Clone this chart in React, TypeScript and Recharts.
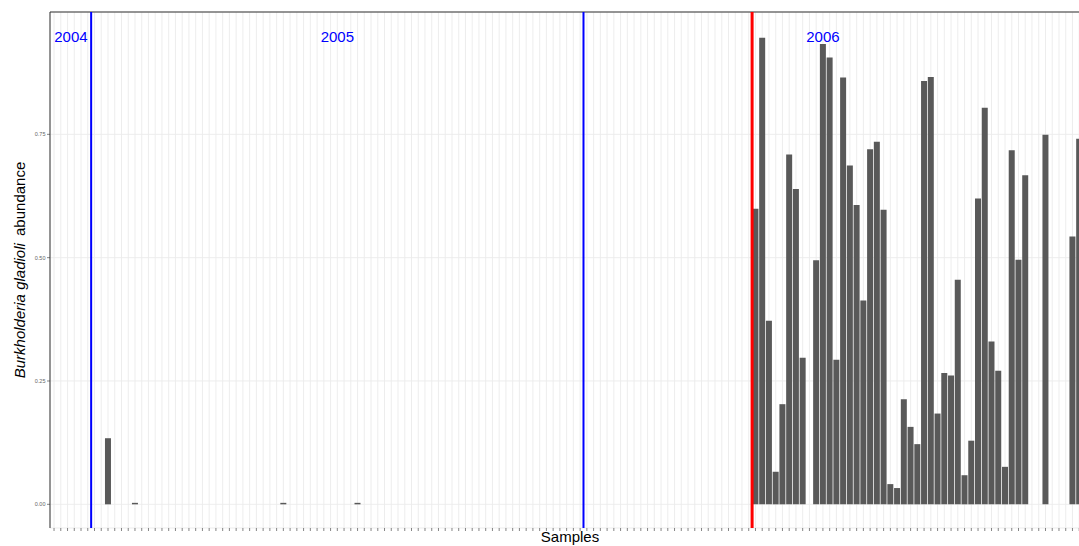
import React from 'react';
import { BarChart, Bar, XAxis, YAxis, CartesianGrid, ReferenceLine } from 'recharts';

// Burkholderia gladioli relative abundance per sample
const abundance: (number | null)[] = [
  0, 0, 0, 0, 0, 0, 0, 0, 0.134, 0, // 1-10
  0, 0, 0.003, 0, 0, 0, 0, 0, 0, 0, // 11-20
  0, 0, 0, 0, 0, 0, 0, 0, 0, 0, // 21-30
  0, 0, 0, 0, 0.003, 0, 0, 0, 0, 0, // 31-40
  0, 0, 0, 0, 0, 0.003, 0, 0, 0, 0, // 41-50
  0, 0, 0, 0, 0, 0, 0, 0, 0, 0, // 51-60
  0, 0, 0, 0, 0, 0, 0, 0, 0, 0, // 61-70
  0, 0, 0, 0, 0, 0, 0, 0, 0, 0, // 71-80
  0, 0, 0, 0, 0, 0, 0, 0, 0, 0, // 81-90
  0, 0, 0, 0, 0, 0, 0, 0, 0, 0, // 91-100
  0, 0, 0, 0, 0.599, 0.946, 0.372, 0.066, 0.203, 0.709, // 101-110
  0.639, 0.297, 0, 0.495, 0.933, 0.906, 0.293, 0.865, 0.687, 0.607, // 111-120
  0.413, 0.72, 0.735, 0.597, 0.041, 0.033, 0.213, 0.157, 0.122, 0.858, // 121-130
  0.866, 0.184, 0.266, 0.261, 0.455, 0.059, 0.129, 0.62, 0.804, 0.33, // 131-140
  0.271, 0.076, 0.718, 0.496, 0.667, 0, 0, 0.749, 0, 0, // 141-150
  0, 0.543, 0.741, null, // 151-154
];

const samples: string[] = abundance.map((_, i) => `S${i + 1}`);

const yTicks = [0, 0.25, 0.5, 0.75];
const yMinorTicks = [0.125, 0.375, 0.625, 0.875];
const yDomain: [number, number] = [-0.048, 0.998];

const yearBoundaries = [
  { sample: 'S7', color: '#0000FF', width: 2 },
  { sample: 'S80', color: '#0000FF', width: 2 },
  { sample: 'S105', color: '#FF0000', width: 3 },
];

const yearLabels: { year: string; sample: string; position: 'start' | 'middle' | 'end' }[] = [
  { year: '2004', sample: 'S3', position: 'end' },
  { year: '2005', sample: 'S43', position: 'middle' },
  { year: '2006', sample: 'S115', position: 'middle' },
];

const data = samples.map((s, i) => ({ sample: s, abundance: abundance[i] }));

const FONT = '"Liberation Sans", Arial, Helvetica, sans-serif';

const YTitle = (props: any) => {
  const vb = props.viewBox || { x: 0, y: 12, width: 50, height: 516 };
  const cx = 24.5;
  const cy = vb.y + vb.height / 2;
  return (
    <text
      x={cx}
      y={cy}
      transform={`rotate(-90, ${cx}, ${cy})`}
      textAnchor="middle"
      fontFamily={FONT}
      fontSize={15}
      fill="#000"
    >
      <tspan fontStyle="italic">Burkholderia gladioli</tspan>
      <tspan dx={3}> abundance</tspan>
    </text>
  );
};

const XTitle = (props: any) => {
  const vb = props.viewBox || { x: 50, y: 528, width: 1040, height: 18 };
  return (
    <text
      x={vb.x + vb.width / 2}
      y={542}
      textAnchor="middle"
      fontFamily={FONT}
      fontSize={15}
      fill="#000"
    >
      Samples
    </text>
  );
};

const makeYearLabel = (year: string) => (props: any) => {
  const vb = props.viewBox || { x: 0 };
  return (
    <text
      x={vb.x}
      y={36}
      textAnchor="middle"
      dominantBaseline="central"
      fontFamily={FONT}
      fontSize={15}
      fill="#0000FF"
    >
      {year}
    </text>
  );
};

const EmptyTick = () => <g />;

const minorGen = (args: any) => {
  const yAxis = args && args.yAxis;
  if (yAxis && typeof yAxis.scale === 'function') {
    return yMinorTicks.map((v) => yAxis.scale(v));
  }
  return [];
};

export default function App() {
  return (
    <div
      style={{
        position: 'absolute',
        left: 0,
        top: 0,
        width: 1079,
        height: 546,
        overflow: 'hidden',
        background: '#fff',
      }}
    >
      <BarChart
        width={1090}
        height={546}
        data={data}
        margin={{ top: 12, right: 0, bottom: 0, left: 0 }}
        barCategoryGap="5%"
      >
        <CartesianGrid stroke="#EBEBEB" strokeWidth={0.9} />
        <CartesianGrid
          stroke="#EBEBEB"
          strokeWidth={0.5}
          vertical={false}
          horizontalCoordinatesGenerator={minorGen}
        />
        <XAxis
          dataKey="sample"
          type="category"
          interval={0}
          padding={{ left: 0.674, right: 0.674 }}
          height={18}
          axisLine={false}
          tickLine={{ stroke: '#333333', strokeWidth: 0.6 }}
          tickSize={3}
          tick={<EmptyTick />}
          label={<XTitle />}
        />
        <YAxis
          type="number"
          domain={yDomain}
          allowDataOverflow
          ticks={yTicks}
          interval={0}
          width={50}
          tickFormatter={(v: number) => v.toFixed(2)}
          tick={{ fontSize: 5.5, fill: '#666666', fontFamily: FONT }}
          tickSize={3}
          tickMargin={1.5}
          axisLine={{ stroke: '#333333', strokeWidth: 1 }}
          tickLine={{ stroke: '#333333', strokeWidth: 0.6 }}
          label={<YTitle />}
        />
        <Bar dataKey="abundance" fill="#595959" isAnimationActive={false} />
        <ReferenceLine y={yDomain[1]} stroke="#333333" strokeWidth={1} />
        {yearBoundaries.map((b) => (
          <ReferenceLine
            key={b.sample}
            x={b.sample}
            position="start"
            stroke={b.color}
            strokeWidth={b.width}
          />
        ))}
        {yearLabels.map((l) => (
          <ReferenceLine
            key={l.year}
            x={l.sample}
            position={l.position}
            stroke="none"
            label={makeYearLabel(l.year)}
          />
        ))}
      </BarChart>
    </div>
  );
}
